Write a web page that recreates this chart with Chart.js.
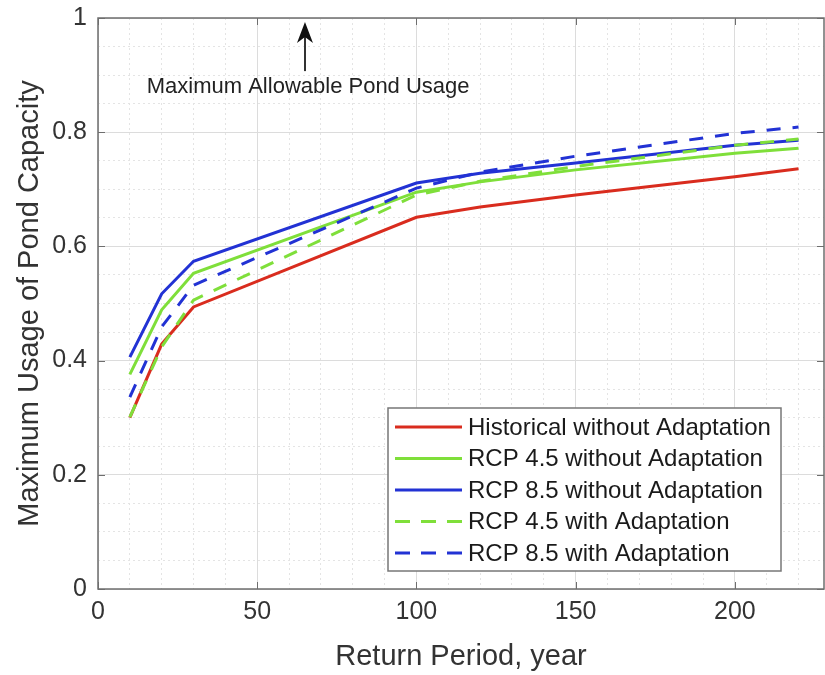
<!DOCTYPE html>
<html>
<head>
<meta charset="utf-8">
<script src="https://cdn.jsdelivr.net/npm/chart.js@4.4.0/dist/chart.umd.min.js"></script>
<style>
  html, body { margin: 0; padding: 0; background: #fff; }
  #wrap { width: 825px; height: 675px; }
</style>
</head>
<body>
<div id="wrap"><canvas id="pondChart" width="825" height="675"></canvas></div>
<script>
// Values (return period in years, usage as fraction of capacity)
const returnPeriods = [10, 20, 30, 100, 120, 150, 200, 220];
const historical = [0.300, 0.429, 0.494, 0.651, 0.669, 0.690, 0.722, 0.736];
const rcp45 = [0.376, 0.489, 0.553, 0.695, 0.713, 0.734, 0.763, 0.772];
const rcp85 = [0.406, 0.517, 0.574, 0.711, 0.728, 0.746, 0.777, 0.786];
const rcp45Adapt = [0.301, 0.424, 0.506, 0.690, 0.714, 0.740, 0.777, 0.788];
const rcp85Adapt = [0.336, 0.459, 0.532, 0.702, 0.730, 0.758, 0.798, 0.809];

const seriesLabels = [
  'Historical without Adaptation',
  'RCP 4.5 without Adaptation',
  'RCP 8.5 without Adaptation',
  'RCP 4.5 with Adaptation',
  'RCP 8.5 with Adaptation'
];
const xTickLabels = [0, 50, 100, 150, 200];
const yTickLabels = [0, 0.2, 0.4, 0.6, 0.8, 1];

const RED = '#d92c1e';
const GREEN = '#7fdf3a';
const BLUE = '#2232d4';
const DASH = [14, 12];
const FONT = '"Liberation Sans", Arial, Helvetica, sans-serif';

const toPoints = vals => vals.map((v, i) => ({ x: returnPeriods[i], y: v }));

const isMajorX = v => xTickLabels.includes(v);
const isMajorY = v => yTickLabels.some(t => Math.abs(t - v) < 1e-6);

const series = [
  { data: historical, color: RED, dash: [] },
  { data: rcp45, color: GREEN, dash: [] },
  { data: rcp85, color: BLUE, dash: [] },
  { data: rcp45Adapt, color: GREEN, dash: DASH },
  { data: rcp85Adapt, color: BLUE, dash: DASH }
];

// Box, inward ticks, annotation arrow and legend, drawn over the plot
const frameAndNotes = {
  id: 'frameAndNotes',
  afterDraw(chart) {
    const { ctx, chartArea: a, scales: { x, y } } = chart;
    ctx.save();

    // axes box
    ctx.strokeStyle = '#6e6e6e';
    ctx.lineWidth = 1.5;
    ctx.strokeRect(a.left, a.top, a.right - a.left, a.bottom - a.top);

    // tick marks pointing into the plot
    ctx.beginPath();
    xTickLabels.forEach(v => {
      const px = Math.round(x.getPixelForValue(v)) + 0.5;
      ctx.moveTo(px, a.bottom); ctx.lineTo(px, a.bottom - 7);
      ctx.moveTo(px, a.top); ctx.lineTo(px, a.top + 7);
    });
    yTickLabels.forEach(v => {
      const py = Math.round(y.getPixelForValue(v)) + 0.5;
      ctx.moveTo(a.left, py); ctx.lineTo(a.left + 7, py);
      ctx.moveTo(a.right, py); ctx.lineTo(a.right - 7, py);
    });
    ctx.lineWidth = 1;
    ctx.stroke();

    // annotation: arrow up to the 1.0 line
    const ax = x.getPixelForValue(65);
    const tipY = y.getPixelForValue(0.993);
    const tailY = y.getPixelForValue(0.907);
    ctx.strokeStyle = '#333';
    ctx.lineWidth = 2;
    ctx.beginPath();
    ctx.moveTo(ax, tailY); ctx.lineTo(ax, tipY + 12);
    ctx.stroke();
    ctx.fillStyle = '#111';
    ctx.beginPath();
    ctx.moveTo(ax, tipY);
    ctx.lineTo(ax - 8, tipY + 21);
    ctx.lineTo(ax, tipY + 15);
    ctx.lineTo(ax + 8, tipY + 21);
    ctx.closePath();
    ctx.fill();

    ctx.font = '22px ' + FONT;
    ctx.fillStyle = '#222';
    ctx.textAlign = 'center';
    ctx.textBaseline = 'middle';
    ctx.fillText('Maximum Allowable Pond Usage', x.getPixelForValue(66), y.getPixelForValue(0.879));

    // legend box in the lower right corner
    const boxW = 393, boxH = 163;
    const bx = a.right - 43 - boxW;
    const by = a.bottom - 18 - boxH;
    ctx.fillStyle = '#fff';
    ctx.fillRect(bx, by, boxW, boxH);
    ctx.strokeStyle = '#777';
    ctx.lineWidth = 1.5;
    ctx.strokeRect(bx, by, boxW, boxH);

    ctx.font = '24px ' + FONT;
    ctx.textAlign = 'left';
    chart.data.datasets.forEach((ds, i) => {
      const ry = by + 19 + i * 31.5;
      ctx.strokeStyle = ds.borderColor;
      ctx.lineWidth = 3;
      ctx.setLineDash(ds.borderDash.length ? [15, 11] : []);
      ctx.beginPath();
      ctx.moveTo(bx + 7, ry); ctx.lineTo(bx + 74, ry);
      ctx.stroke();
      ctx.setLineDash([]);
      ctx.fillStyle = '#1a1a1a';
      ctx.fillText(ds.label, bx + 80, ry + 1);
    });

    ctx.restore();
  }
};

const ctx = document.getElementById('pondChart').getContext('2d');
new Chart(ctx, {
  type: 'line',
  data: {
    datasets: series.map((s, i) => ({
      label: seriesLabels[i],
      data: toPoints(s.data),
      borderColor: s.color,
      borderDash: s.dash,
      borderWidth: 3,
      pointRadius: 0,
      tension: 0,
      fill: false,
      order: series.length - i
    }))
  },
  options: {
    responsive: false,
    animation: false,
    devicePixelRatio: 1,
    layout: { padding: { top: 18, right: 1, left: 0, bottom: 0 } },
    plugins: {
      legend: { display: false },
      tooltip: { enabled: false }
    },
    scales: {
      x: {
        type: 'linear',
        min: 0,
        max: 228,
        afterFit: scale => { scale.height = 86; },
        ticks: {
          stepSize: 10,
          autoSkip: false,
          includeBounds: false,
          maxRotation: 0,
          padding: 8,
          color: '#333',
          font: { family: FONT, size: 25 },
          callback: v => (isMajorX(v) ? String(v) : '')
        },
        grid: {
          drawTicks: false,
          lineWidth: 1,
          color: c => (c.tick && isMajorX(c.tick.value) ? '#dcdcdc' : '#e4e4e4')
        },
        border: {
          display: false,
          dash: c => (c.tick && !isMajorX(c.tick.value) ? [2, 3] : [])
        },
        title: {
          display: true,
          text: 'Return Period, year',
          color: '#333',
          font: { family: FONT, size: 29 },
          padding: { top: 0, bottom: 1 }
        }
      },
      y: {
        type: 'linear',
        min: 0,
        max: 1,
        afterFit: scale => {
          scale.width = 98;
          scale.paddingTop = 0;
          scale.paddingBottom = 0;
        },
        ticks: {
          stepSize: 0.05,
          autoSkip: false,
          includeBounds: false,
          padding: 11,
          color: '#333',
          font: { family: FONT, size: 25 },
          callback: v => (isMajorY(v) ? String(Math.round(v * 10) / 10) : '')
        },
        grid: {
          drawTicks: false,
          lineWidth: 1,
          color: c => (c.tick && isMajorY(c.tick.value) ? '#dcdcdc' : '#e4e4e4')
        },
        border: {
          display: false,
          dash: c => (c.tick && !isMajorY(c.tick.value) ? [2, 3] : [])
        },
        title: {
          display: true,
          text: 'Maximum Usage of Pond Capacity',
          color: '#333',
          font: { family: FONT, size: 29 },
          padding: { top: 13, bottom: 0 }
        }
      }
    }
  },
  plugins: [frameAndNotes]
});
</script>
</body>
</html>
